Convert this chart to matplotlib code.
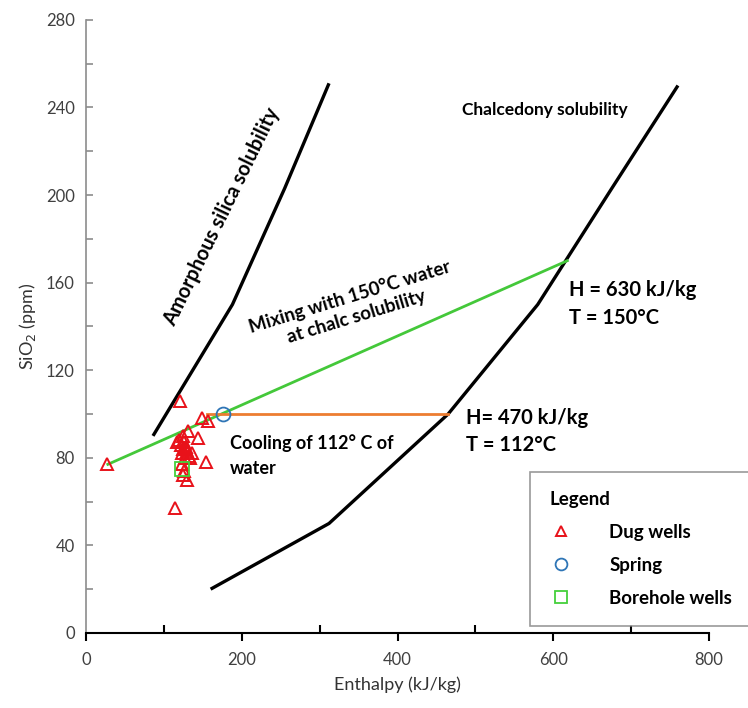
import numpy as np
import matplotlib.pyplot as plt
from matplotlib.ticker import MultipleLocator

plt.rcParams['font.family'] = ['Lato', 'DejaVu Sans']

# solubility curves (enthalpy kJ/kg, SiO2 ppm)
amorph_h = [86, 188, 255, 312]
amorph_si = [90, 150, 203, 251]
chalc_h = [160, 312, 465, 580, 675, 760]
chalc_si = [20, 50, 100, 150, 203, 250]

# mixing and cooling lines
mix_h = [28, 618]
mix_si = [77, 170]
cool_h = [155, 465]
cool_si = [100, 100]

# samples
dug_h = [27, 121, 149, 157, 144, 131, 125, 117, 120, 122, 124, 126, 128,
         130, 132, 134, 127, 123, 136, 154, 123, 126, 130, 114, 125, 129]
dug_si = [77, 106, 98, 97, 89, 92, 90, 87, 88, 86, 84, 87, 85,
          83, 81, 80, 80, 82, 82, 78, 77, 74, 70, 57, 72, 84]
spring_h = [176]
spring_si = [100]
bore_h = [123]
bore_si = [75]

fig = plt.figure(figsize=(7.48, 7.08), dpi=100)
ax = fig.add_axes([0.115, 0.106, 0.833, 0.866])

ax.plot(amorph_h, amorph_si, color='black', lw=2.4, solid_capstyle='butt')
ax.plot(chalc_h, chalc_si, color='black', lw=2.4, solid_capstyle='butt')
ax.plot(mix_h, mix_si, color='#44c83a', lw=2.0)
ax.plot(cool_h, cool_si, color='#ed7d31', lw=2.0)

h1, = ax.plot(dug_h, dug_si, ls='none', marker='^', ms=8, mfc='none',
              mec='#e8121a', mew=1.4, label='Dug wells')
h2, = ax.plot(spring_h, spring_si, ls='none', marker='o', ms=10, mfc='none',
              mec='#2e75b6', mew=1.3, label='Spring')
h3, = ax.plot(bore_h, bore_si, ls='none', marker='s', ms=10, mfc='none',
              mec='#44d03c', mew=1.3, label='Borehole wells')

ax.set_xlim(0, 800)
ax.set_ylim(0, 280)
ax.xaxis.set_major_locator(MultipleLocator(200))
ax.xaxis.set_minor_locator(MultipleLocator(100))
ax.yaxis.set_major_locator(MultipleLocator(40))
ax.yaxis.set_minor_locator(MultipleLocator(20))

for s in ['top', 'right']:
    ax.spines[s].set_visible(False)
ax.spines['left'].set_color('#8c8c8c')
ax.spines['left'].set_linewidth(1.2)
ax.spines['bottom'].set_color('black')
ax.spines['bottom'].set_linewidth(1.5)

ax.tick_params(axis='x', which='major', direction='out', length=6, width=1.5,
               labelsize=12, colors='black', labelcolor='#404040', pad=8)
ax.tick_params(axis='x', which='minor', direction='in', length=6, width=1.5)
ax.tick_params(axis='y', which='both', direction='in', length=5, width=1.2,
               color='#8c8c8c', labelsize=12, labelcolor='#404040', pad=8)

ax.set_xlabel('Enthalpy (kJ/kg)', fontsize=13, color='#333333', labelpad=6)
ax.set_ylabel('SiO$_2$ (ppm)', fontsize=13, color='#333333', labelpad=6)

ax.text(174, 190, 'Amorphous silica solubility', rotation=64,
        ha='center', va='center', fontsize=14.5, fontweight='bold')
ax.text(589, 239, 'Chalcedony solubility', ha='center', va='center',
        fontsize=12.5, fontweight='bold')
ax.text(343, 149, 'Mixing with 150°C water\nat chalc solubility', rotation=17,
        ha='center', va='center', fontsize=13.5, fontweight='bold',
        linespacing=1.3)
ax.text(620, 150, 'H = 630 kJ/kg\nT = 150°C', ha='left', va='center',
        fontsize=14.5, fontweight='bold', linespacing=1.5)
ax.text(488, 92, 'H= 470 kJ/kg\nT = 112°C', ha='left', va='center',
        fontsize=14.5, fontweight='bold', linespacing=1.45)
ax.text(185, 81, 'Cooling of 112° C of\nwater', ha='left', va='center',
        fontsize=13, fontweight='bold', linespacing=1.6)

leg = fig.legend(handles=[h1, h2, h3], title='Legend', loc='upper left',
                 bbox_to_anchor=(0.709, 0.333), borderaxespad=0.0,
                 frameon=True, fancybox=False,
                 edgecolor='#808080', prop={'size': 13.5, 'weight': 'bold'},
                 title_fontproperties={'size': 13.5, 'weight': 'bold'},
                 handletextpad=1.9, labelspacing=0.85, borderpad=1.0,
                 handlelength=1.3, markerscale=0.85)
leg._legend_box.align = 'left'
leg.get_frame().set_linewidth(1.2)

fig.savefig('out.png', dpi=100)
